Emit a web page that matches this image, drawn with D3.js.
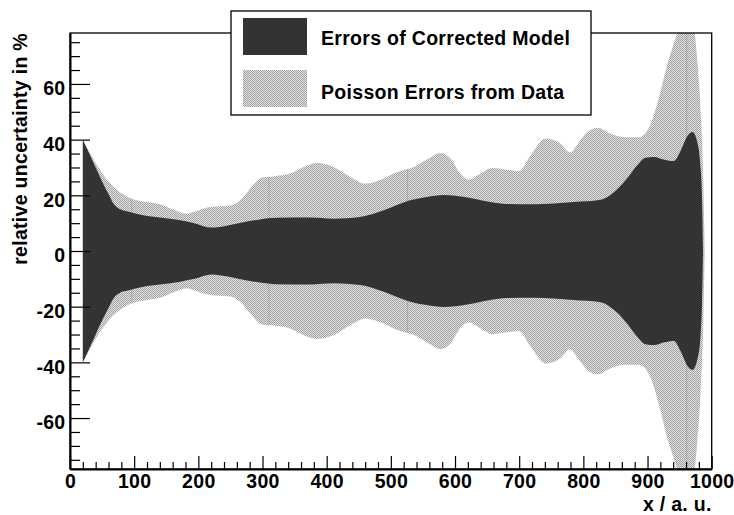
<!DOCTYPE html>
<html>
<head>
<meta charset="utf-8">
<script src="https://cdn.jsdelivr.net/npm/d3@7"></script>
<style>
  body { margin: 0; background: #fff; }
  svg text { font-family: "Liberation Sans", Arial, sans-serif; font-weight: bold; letter-spacing: 0.3px; }
</style>
</head>
<body>
<div id="chart"></div>
<script>
// error bands (symmetric: +/- value)
const modelX   = [20, 30, 40, 50, 60, 68, 78, 90, 114, 140, 172, 192, 221, 244, 270, 296, 322, 374, 411, 452, 489, 530, 556, 582, 619, 655, 681, 723, 785, 827, 848, 868, 884, 897, 910, 926, 941, 952, 962, 970, 978, 983, 985, 986.5];
const modelErr = [40, 35, 30, 25, 20.5, 17, 15, 14.2, 12.8, 12.0, 11.0, 10.1, 8.4, 9.1, 10.3, 11.3, 11.9, 12.0, 11.6, 12.2, 14.6, 18.2, 19.4, 20.1, 19.2, 17.6, 16.9, 16.8, 17.6, 18.4, 21.2, 26.0, 30.8, 33.5, 33.8, 32.8, 32.3, 36.2, 41.2, 42.7, 38.6, 29, 18, 0];

const dataX   = [20, 34, 47, 60, 73, 96, 120, 140, 161, 182, 192, 218, 250, 265, 283, 299, 317, 343, 359, 385, 411, 437, 460, 484, 510, 536, 559, 577, 593, 608, 621, 640, 658, 681, 699, 718, 741, 764, 779, 793, 806, 822, 842, 863, 887, 905, 918, 931, 941, 952, 962, 971, 978, 983, 987, 989];
const dataErr = [40, 34, 29, 25, 22.0, 18.8, 17.6, 16.8, 14.9, 13.4, 14.0, 15.8, 16.3, 18.2, 23.0, 26.4, 26.8, 27.8, 29.6, 31.6, 30.2, 26.6, 24.2, 25.6, 28.4, 30.2, 33.2, 35.2, 33.2, 27.8, 25.6, 27.8, 29.8, 29.2, 28.7, 34.4, 40.4, 38.6, 35.4, 39.1, 42.7, 44.3, 42.2, 40.9, 40.9, 45.7, 55.3, 67.3, 74.5, 82, 86, 82, 67.3, 49.3, 25, 0];

// faint rendering seams visible inside the light band
const seamX = [96, 310, 526, 961];

const xTicks = d3.range(0, 1001, 100);
const xMinor = d3.range(0, 1001, 20).filter(v => v % 100 !== 0);
const yTicks = [-60, -40, -20, 0, 20, 40, 60];
const yMinor = d3.range(-75, 76, 5).filter(v => v % 20 !== 0);

const legendLabels = ["Errors of Corrected Model", "Poisson Errors from Data"];

const width = 734, height = 515;
const margin = { top: 33, right: 23, bottom: 46, left: 70 };
const fs = 19.5;

const svg = d3.select("#chart").append("svg")
  .attr("width", width)
  .attr("height", height);

const defs = svg.append("defs");
const pat = defs.append("pattern")
  .attr("id", "dots")
  .attr("width", 2).attr("height", 2)
  .attr("patternUnits", "userSpaceOnUse");
pat.append("rect").attr("width", 2).attr("height", 2).attr("fill", "#e2e2e2");
pat.append("rect").attr("width", 1).attr("height", 1).attr("fill", "#a2a2a2");
pat.append("rect").attr("x", 1).attr("y", 1).attr("width", 1).attr("height", 1).attr("fill", "#a2a2a2");

defs.append("clipPath").attr("id", "frame")
  .append("rect")
  .attr("x", margin.left).attr("y", margin.top)
  .attr("width", width - margin.left - margin.right)
  .attr("height", height - margin.top - margin.bottom);

const x = d3.scaleLinear().domain([0, 1000]).range([margin.left, width - margin.right + 0.7]);
const y = d3.scaleLinear().domain([-78.3, 78.3]).range([height - margin.bottom, margin.top]);

const band = d3.area()
  .x(d => x(d[0]))
  .y0(d => y(-d[1]))
  .y1(d => y(d[1]))
  .curve(d3.curveMonotoneX);

const dataBand = d3.zip(dataX, dataErr);
const modelBand = d3.zip(modelX, modelErr);

defs.append("clipPath").attr("id", "lightArea")
  .append("path").attr("d", band(dataBand));

const plot = svg.append("g").attr("clip-path", "url(#frame)");

plot.append("path")
  .attr("d", band(dataBand))
  .attr("fill", "url(#dots)");

plot.append("g").attr("clip-path", "url(#lightArea)")
  .selectAll("line")
  .data(seamX)
  .join("line")
  .attr("x1", d => x(d)).attr("x2", d => x(d))
  .attr("y1", margin.top).attr("y2", height - margin.bottom)
  .attr("stroke", "#8a8a8a")
  .attr("stroke-opacity", 0.4);

plot.append("path")
  .attr("d", band(modelBand))
  .attr("fill", "#333333");

// frame
svg.append("rect")
  .attr("x", margin.left).attr("y", margin.top)
  .attr("width", x(1000) - margin.left)
  .attr("height", y(-78.3) - margin.top)
  .attr("fill", "none")
  .attr("stroke", "#000")
  .attr("stroke-width", 1.3);

const fmt = d => String(d);

// x axis
svg.append("g")
  .attr("transform", `translate(0,${y(-78.3)})`)
  .call(d3.axisBottom(x).tickValues(xTicks).tickFormat(fmt).tickSize(-13).tickSizeOuter(0).tickPadding(5.5));
svg.append("g")
  .attr("transform", `translate(0,${y(-78.3)})`)
  .call(d3.axisBottom(x).tickValues(xMinor).tickSize(-7).tickSizeOuter(0).tickFormat(""))
  .call(g => g.select(".domain").remove());

// y axis
const yAxis = svg.append("g")
  .attr("transform", `translate(${margin.left},0)`)
  .call(d3.axisLeft(y).tickValues(yTicks).tickFormat(fmt).tickSize(-20).tickSizeOuter(0).tickPadding(4.5));
svg.append("g")
  .attr("transform", `translate(${margin.left},0)`)
  .call(d3.axisLeft(y).tickValues(yMinor).tickSize(-10).tickSizeOuter(0).tickFormat(""))
  .call(g => g.select(".domain").remove());

svg.selectAll(".tick line").attr("stroke", "#000").attr("stroke-width", 1.2);
svg.selectAll(".domain").attr("stroke", "#000").attr("stroke-width", 2);
svg.selectAll(".tick text")
  .attr("fill", "#000")
  .attr("font-size", fs)
  .attr("font-family", null);
yAxis.selectAll(".tick text").attr("dy", "0.55em");

// axis titles
svg.append("text")
  .attr("x", x(1000)).attr("y", 511)
  .attr("text-anchor", "end")
  .attr("font-size", fs)
  .text("x / a. u.");

svg.append("text")
  .attr("transform", "translate(27,33) rotate(-90)")
  .attr("text-anchor", "end")
  .attr("font-size", fs)
  .text("relative uncertainty in %");

// legend
const legend = svg.append("g");
legend.append("rect")
  .attr("x", 231).attr("y", 11)
  .attr("width", 360).attr("height", 104)
  .attr("fill", "#fff")
  .attr("stroke", "#000")
  .attr("stroke-width", 1.3);

const swatchFill = ["#333333", "url(#dots)"];
legend.selectAll("rect.sw")
  .data(legendLabels)
  .join("rect")
  .attr("class", "sw")
  .attr("x", 243)
  .attr("y", (d, i) => 18 + i * 52)
  .attr("width", 64).attr("height", 37)
  .attr("fill", (d, i) => swatchFill[i]);

legend.selectAll("text.lab")
  .data(legendLabels)
  .join("text")
  .attr("class", "lab")
  .attr("x", 321)
  .attr("y", (d, i) => 45 + i * 54)
  .attr("font-size", fs)
  .text(d => d);
</script>
</body>
</html>
